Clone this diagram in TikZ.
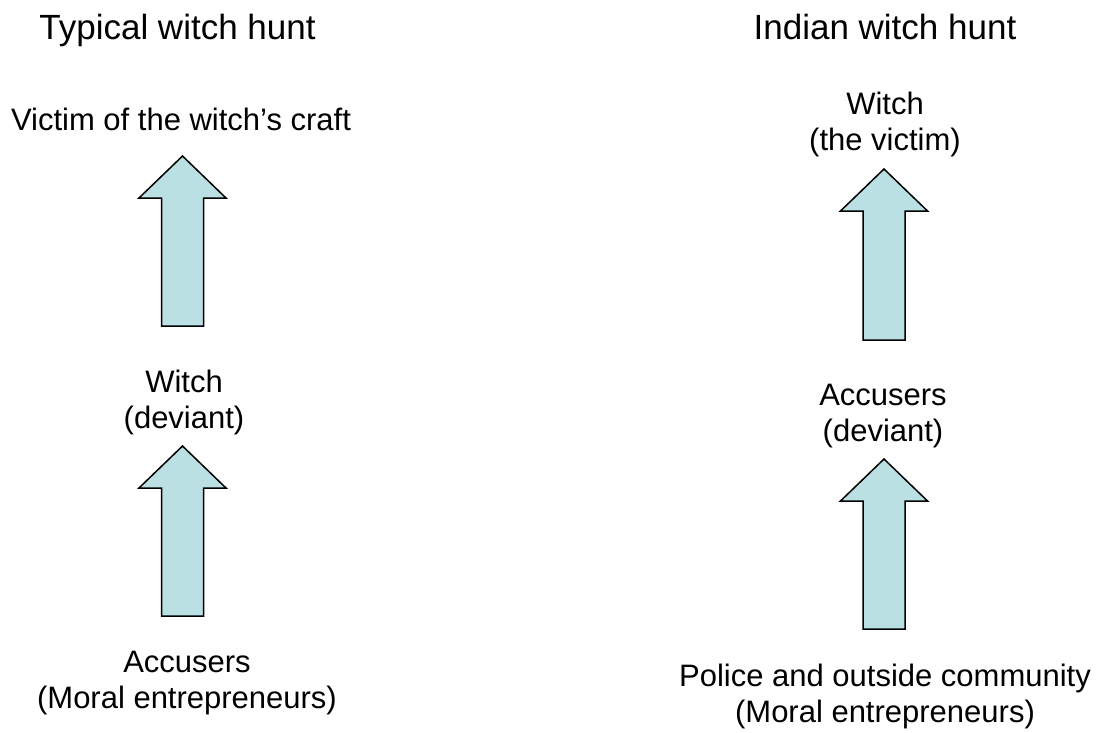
\documentclass[tikz,border=0pt]{standalone}
\usepackage{fontspec}
\setmainfont{Liberation Sans}
\definecolor{arrowfill}{HTML}{BBE0E3}
\tikzset{
  every node/.style={inner sep=0pt, outer sep=0pt},
  heading/.style={font=\fontsize{35}{40}\selectfont, anchor=base},
  label/.style={font=\fontsize{31}{36}\selectfont, align=center, anchor=base},
  arrowbody/.style={draw=black, fill=arrowfill, line width=1.5pt, line join=miter},
  % block arrow pointing up; origin at the tip, #1 = total length
  pics/blockarrow/.style={code={
    \draw[arrowbody] (0,0) -- (43.5,42) -- (21,42) -- (21,#1) -- (-21,#1)
      -- (-21,42) -- (-43.5,42) -- cycle;
  }}
}
\begin{document}
\begin{tikzpicture}[x=1pt, y=-1pt]
\useasboundingbox (0,0) rectangle (1103,732);

% column headings
\node[heading] (titleL) at (177.5,39) {Typical witch hunt};
\node[heading] (titleR) at (885,39) {Indian witch hunt};

% typical witch hunt (two-line labels are placed by their last baseline)
\node[label] (victimL) at (181,130) {Victim of the witch’s craft};
\node[label] (witchL) at (184,428) {Witch\\(deviant)};
\node[label] (accL) at (187,708) {Accusers\\(Moral entrepreneurs)};

% indian witch hunt
\node[label] (witchR) at (885,150) {Witch\\(the victim)};
\node[label] (accR) at (883,441) {Accusers\\(deviant)};
\node[label] (policeR) at (885,722) {Police and outside community\\(Moral entrepreneurs)};

% arrows between the levels
\coordinate (aL1) at (182.5,156);
\coordinate (aL2) at (182.5,446);
\coordinate (aR1) at (884,169);
\coordinate (aR2) at (884,459);
\pic at (aL1) {blockarrow=170};
\pic at (aL2) {blockarrow=170};
\pic at (aR1) {blockarrow=171};
\pic at (aR2) {blockarrow=170};
\end{tikzpicture}
\end{document}
